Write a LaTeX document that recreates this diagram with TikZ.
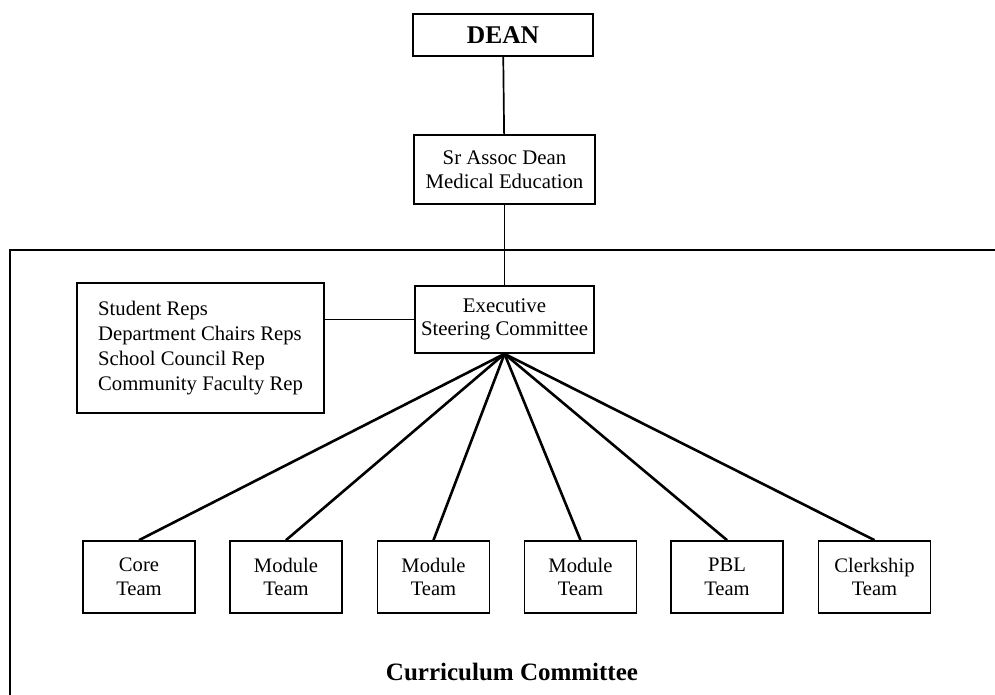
\documentclass[tikz,border=0pt]{standalone}
\usepackage{fontspec}
\setmainfont{Liberation Serif}
\begin{document}
\begin{tikzpicture}[x=1pt,y=-1pt,
  box/.style={draw, line width=1.7pt, inner sep=0pt, align=center},
  teambox/.style={box, minimum width=112pt, minimum height=72pt, font=\fontsize{20.6}{23.5}\selectfont},
  link/.style={line width=1.7pt},
  fan/.style={line width=2.6pt}]
\useasboundingbox (0,0) rectangle (995,695);

% Curriculum Committee frame (open to the right and bottom)
\draw[line width=1.7pt] (995,250) -- (10,250) -- (10,695);

% Upper chain of command
\node[box, minimum width=180pt, minimum height=42pt, font=\fontsize{25.5}{30}\selectfont\bfseries] (dean) at (503,35) {DEAN};
\node[box, minimum width=181pt, minimum height=69pt, font=\fontsize{20.8}{23.5}\selectfont] (sr) at (504.5,169.5) {Sr Assoc Dean\\Medical Education};
\node[box, minimum width=179pt, minimum height=67pt, font=\fontsize{20.8}{23.5}\selectfont] (exec) at (504.5,319.5) {Executive\\Steering Committee};
\node[box, minimum width=247pt, minimum height=130pt, align=left, font=\fontsize{20.7}{25}\selectfont] (reps) at (200.5,348) {Student Reps\\Department Chairs Reps\\School Council Rep\\Community Faculty Rep};

\draw[link] (dean) -- (sr);
\draw[link] (sr) -- (exec);
\draw[link] (exec.west) -- (exec.west -| reps.east);

% Teams
\node[teambox] (core) at (139,577) {Core\\Team};
\node[teambox] (mod1) at (286,577) {Module\\Team};
\node[teambox] (mod2) at (433.5,577) {Module\\Team};
\node[teambox] (mod3) at (580.5,577) {Module\\Team};
\node[teambox] (pbl) at (727,577) {PBL\\Team};
\node[teambox] (clerk) at (874.5,577) {Clerkship\\Team};

\foreach \t in {core,mod1,mod2,mod3,pbl,clerk}
  \draw[fan] (exec.south) -- (\t.north);

\node[font=\fontsize{25}{28}\selectfont\bfseries] (cc) at (512,672) {Curriculum Committee};
\end{tikzpicture}
\end{document}
